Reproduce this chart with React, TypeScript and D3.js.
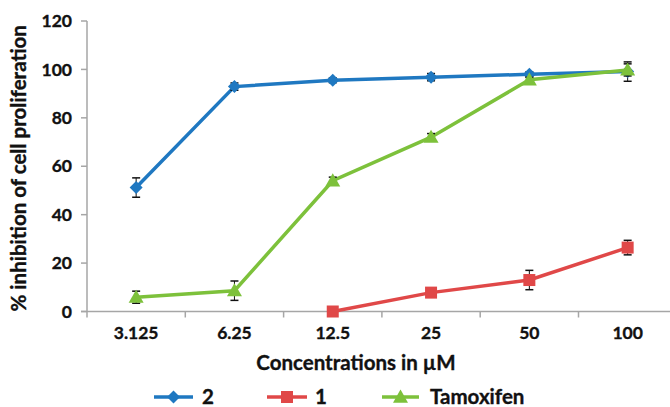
import React from "react";
import * as d3 from "d3";

const categories = ["3.125", "6.25", "12.5", "25", "50", "100"];
const yTicks = [0, 20, 40, 60, 80, 100, 120];

const series2 = [51.2, 92.9, 95.5, 96.8, 98.0, 99.1];
const series2Err = [4, 1.5, 1, 1.5, 1, 4];
const series1 = [null, null, 0, 7.8, 13, 26.4];
const series1Err = [null, null, 0, 1, 4, 3];
const tamoxifen = [5.9, 8.6, 54.0, 72.0, 95.7, 99.8];
const tamoxifenErr = [2.5, 4, 1.5, 1.5, 1, 2.5];

const seriesNames = ["2", "1", "Tamoxifen"];
const colors = ["#1F78C1", "#E04848", "#7DC13B"];

const W = 670;
const H = 407;
const FONT = "Lato, 'Open Sans', sans-serif";

function Marker({ type, x, y, color, s = 1 }: { type: string; x: number; y: number; color: string; s?: number }) {
  if (type === "diamond") {
    const r = 6.5 * s;
    return <path d={`M${x},${y - r}L${x + r},${y}L${x},${y + r}L${x - r},${y}Z`} fill={color} />;
  }
  if (type === "square") {
    const r = 6 * s;
    return <rect x={x - r} y={y - r} width={2 * r} height={2 * r} fill={color} />;
  }
  const r = 7.5 * s;
  return <path d={`M${x},${y - r}L${x + r},${y + r * 0.75}L${x - r},${y + r * 0.75}Z`} fill={color} />;
}

const textStyle = {
  fontFamily: FONT,
  fontWeight: "bold" as const,
  fill: "#111",
  stroke: "#111",
  strokeWidth: 0.35,
};

export default function App() {
  const x0 = 87;
  const bw = 98.3;
  const x = d3.scaleBand<string>().domain(categories).range([x0, x0 + bw * categories.length]);
  const y = d3.scaleLinear().domain([0, 120]).range([311.5, 21]);
  const cx = (c: string) => (x(c) as number) + x.bandwidth() / 2;

  const all = [
    { vals: series2, errs: series2Err, marker: "diamond" },
    { vals: series1, errs: series1Err, marker: "square" },
    { vals: tamoxifen, errs: tamoxifenErr, marker: "triangle" },
  ];

  const line = d3
    .line<number | null>()
    .defined((d) => d !== null)
    .x((_, i) => cx(categories[i]))
    .y((d) => y(d as number));

  const axisColor = "#A6A6A6";

  return (
    <svg width={W} height={H} style={{ position: "absolute", left: 0, top: 0, background: "#fff" }}>
      {/* y axis */}
      <line x1={x0} x2={x0} y1={y(120)} y2={y(0)} stroke={axisColor} strokeWidth={1.5} />
      {yTicks.map((t) => (
        <g key={t}>
          <line x1={x0 - 6} x2={x0} y1={y(t)} y2={y(t)} stroke={axisColor} strokeWidth={1.5} />
          <text x={72} y={y(t)} dy="0.35em" textAnchor="end" fontSize={17.5} style={textStyle}>
            {t}
          </text>
        </g>
      ))}
      {/* x axis */}
      <line x1={x0 - 6} x2={W} y1={y(0)} y2={y(0)} stroke={axisColor} strokeWidth={1.5} />
      {categories.map((c, i) => (
        <g key={c}>
          <line x1={x(c) as number} x2={x(c) as number} y1={y(0)} y2={y(0) + 6} stroke={axisColor} strokeWidth={1.5} />
          <text x={cx(c)} y={333} dy="0.35em" textAnchor="middle" fontSize={17.5} style={textStyle}>
            {c}
          </text>
        </g>
      ))}
      <text x={356} y={363} dy="0.35em" textAnchor="middle" fontSize={20.5} style={textStyle}>
        Concentrations in µM
      </text>
      <text
        transform={`translate(19,${(y(0) + y(120)) / 2 + 2}) rotate(-90)`}
        dy="0.35em"
        textAnchor="middle"
        fontSize={20.5}
        style={textStyle}
      >
        % inhibition of cell proliferation
      </text>

      {/* series */}
      {all.map((s, si) => (
        <g key={si}>
          <path d={line(s.vals) || ""} fill="none" stroke={colors[si]} strokeWidth={3.5} />
          {s.vals.map((v, i) => {
            if (v === null) return null;
            const e = s.errs[i] as number;
            const px = cx(categories[i]);
            return (
              <g key={i}>
                {e > 0 && (
                  <g>
                    <line x1={px} x2={px} y1={y(v + e)} y2={y(v - e)} stroke="#111" strokeWidth={1} />
                    <line x1={px - 4} x2={px + 4} y1={y(v + e)} y2={y(v + e)} stroke="#111" strokeWidth={1.5} />
                    <line x1={px - 4} x2={px + 4} y1={y(v - e)} y2={y(v - e)} stroke="#111" strokeWidth={1.5} />
                  </g>
                )}
                <Marker type={s.marker} x={px} y={y(v)} color={colors[si]} />
              </g>
            );
          })}
        </g>
      ))}

      {/* legend */}
      {[
        { x1: 154, x2: 193, tx: 202 },
        { x1: 267, x2: 307, tx: 315 },
        { x1: 382, x2: 419, tx: 430 },
      ].map((l, i) => (
        <g key={i}>
          <line x1={l.x1} x2={l.x2} y1={397} y2={397} stroke={colors[i]} strokeWidth={3.5} />
          <Marker type={all[i].marker} x={(l.x1 + l.x2) / 2} y={397} color={colors[i]} />
          <text x={l.tx} y={397} dy="0.35em" fontSize={20.5} style={textStyle}>
            {seriesNames[i]}
          </text>
        </g>
      ))}
    </svg>
  );
}
